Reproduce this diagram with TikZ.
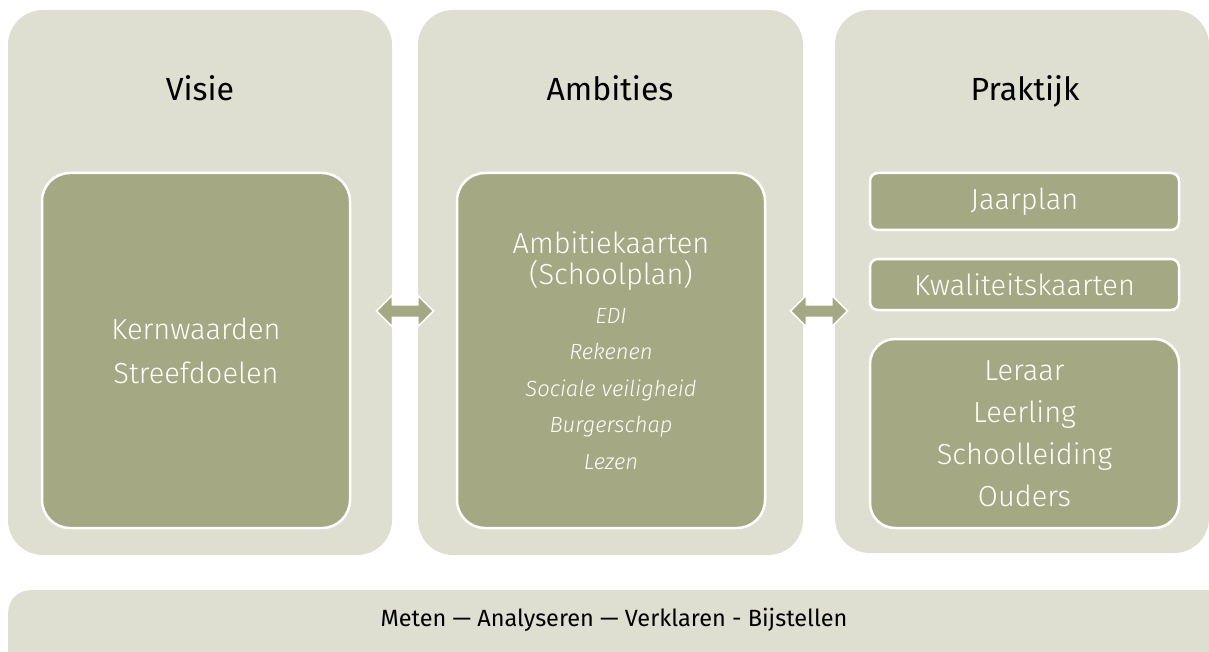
\documentclass[tikz,border=0pt]{standalone}
\usepackage{fontspec}
\setmainfont{Fira Sans Light}[ItalicFont={Fira Sans Light Italic}]
\newfontfamily\kopfont{Fira Sans}
\usetikzlibrary{calc,shapes.arrows}
\definecolor{paneel}{HTML}{DEDFD1}
\definecolor{olijf}{HTML}{A4A883}
\newcommand{\grootletter}{\upshape\fontsize{29}{33}\selectfont}

\begin{document}
\begin{tikzpicture}[x=1pt, y=-1pt,
  panel/.style={fill=paneel, rounded corners=35pt, inner sep=0pt},
  inbox/.style={fill=olijf, draw=white, line width=2.5pt, text=white, align=center, inner sep=0pt},
  kop/.style={font=\kopfont\fontsize{32}{36}\selectfont, anchor=base},
  pijl/.style={double arrow, fill=olijf, draw=white, line width=1.5pt, minimum height=57pt,
    inner xsep=0pt, inner ysep=5.5pt, double arrow head extend=9.5pt}]
\useasboundingbox (0,0) rectangle (1209,652);
\clip (0,0) rectangle (1209,652);
% de drie panelen
\node[panel, minimum width=384pt, minimum height=545pt] (visie) at (200,282.5) {};
\node[panel, minimum width=385pt, minimum height=545pt] (ambities) at (610.5,282.5) {};
\node[panel, minimum width=374pt, minimum height=543pt] (praktijk) at (1022,281.5) {};
\node[kop] (visiekop) at (200,101) {Visie};
\node[kop] (ambitieskop) at (610,101) {Ambities};
\node[kop] (praktijkkop) at (1025,101) {Praktijk};
% inhoud
\node[inbox, rounded corners=28pt, minimum width=308pt, minimum height=355pt,
  font=\fontsize{29}{44}\selectfont] (kern) at (196,350.5) {Kernwaarden\\Streefdoelen};
\node[inbox, rounded corners=28pt, minimum width=308pt, minimum height=355pt,
  font=\itshape\fontsize{22}{36.5}\selectfont] (kaarten) at (611,350.5)
  {{\grootletter Ambitiekaarten}\\[-5.5pt]{\grootletter (Schoolplan)}\\[2pt]
   EDI\\Rekenen\\Sociale veiligheid\\Burgerschap\\Lezen};
\node[inbox, rounded corners=8pt, minimum width=309pt, minimum height=57pt,
  font=\fontsize{29}{32}\selectfont] (jaarplan) at (1024.5,201.5) {Jaarplan};
\node[inbox, rounded corners=8pt, minimum width=309pt, minimum height=51pt,
  font=\fontsize{29}{32}\selectfont] (kwaliteit) at (1024.5,284.5) {Kwaliteitskaarten};
\node[inbox, rounded corners=25pt, minimum width=309pt, minimum height=189pt,
  font=\fontsize{29}{42}\selectfont] (rollen) at (1024.5,433.5) {Leraar\\Leerling\\Schoolleiding\\Ouders};
% pijlen tussen de panelen
\coordinate (pL) at ($(visie.east)!0.5!(ambities.west)$);
\coordinate (pR) at ($(ambities.east)!0.5!(praktijk.west)$);
\node[pijl] (pijlL) at (pL |- 0,311) {};
\node[pijl] (pijlR) at (pR |- 0,311) {};
% cyclus onderaan
\node[panel, rounded corners=22pt, minimum width=1230pt, minimum height=120pt, anchor=north west] (cyclus) at (8,590) {};
\node[font=\kopfont\fontsize{23.5}{26}\selectfont] (cyclustekst) at (614,620) {Meten — Analyseren — Verklaren - Bijstellen};
\end{tikzpicture}
\end{document}
